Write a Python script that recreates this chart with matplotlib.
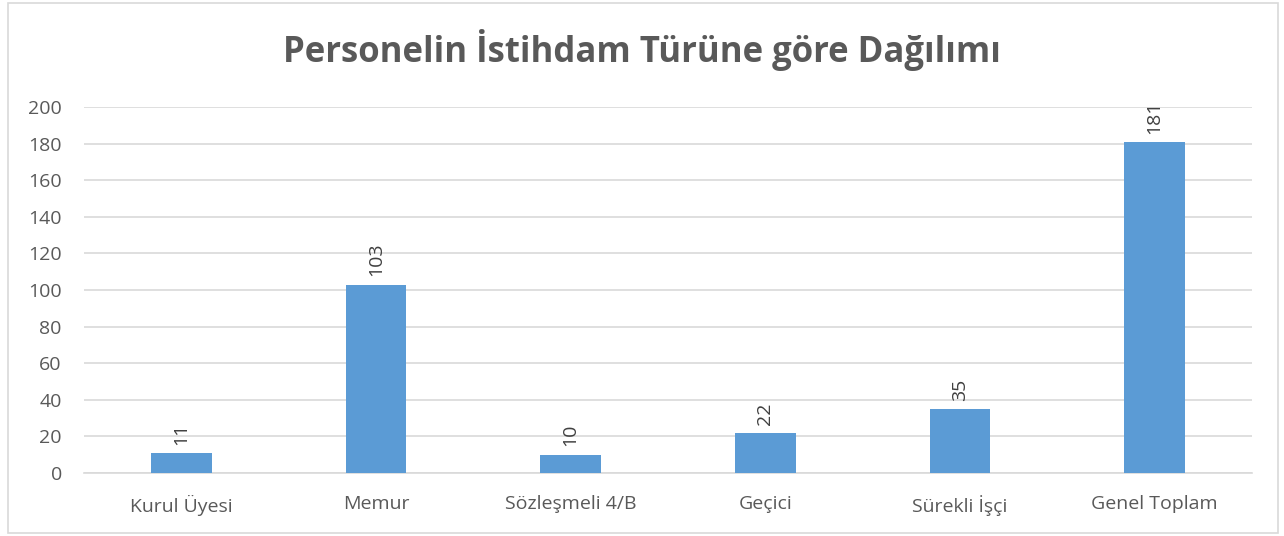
import numpy as np
import matplotlib.pyplot as plt
from matplotlib.patches import Rectangle

categories = ['Kurul Üyesi', 'Memur', 'Sözleşmeli 4/B', 'Geçici', 'Sürekli İşçi', 'Genel Toplam']
values = [11, 103, 10, 22, 35, 181]
yticks = [0, 20, 40, 60, 80, 100, 120, 140, 160, 180, 200]

plt.rcParams['font.family'] = ['Open Sans', 'DejaVu Sans']
txt = '#595959'

fig = plt.figure(figsize=(12.84, 5.36), dpi=100)
fig.patches.append(Rectangle((8/1284, 3/536), 1270/1284, 530/536, transform=fig.transFigure,
                             fill=False, edgecolor='#d9d9d9', linewidth=1.2))
ax = fig.add_axes([84/1284, 1-473/536, (1252-84)/1284, (473-107)/536])

x = np.arange(len(categories))
bars = ax.bar(x, values, width=0.31, color='#5b9bd5', zorder=3)
for xi, v in zip(x, values):
    ax.text(xi, v + 4.5, str(v), rotation=90, ha='center', va='bottom', fontsize=14, color='#404040')

ax.set_xlim(-0.5, len(categories) - 0.5)
ax.set_ylim(0, 200)
ax.set_yticks(yticks)
ax.set_xticks(x)
ax.set_xticklabels(categories, fontsize=14.5)
ax.grid(axis='y', color='#d9d9d9', linewidth=1.2, zorder=0)
for s in ['top', 'right', 'left']:
    ax.spines[s].set_visible(False)
ax.spines['bottom'].set_color('#d9d9d9')
ax.spines['bottom'].set_linewidth(1.2)
ax.tick_params(axis='both', length=0, labelsize=14, colors=txt)
ax.tick_params(axis='x', pad=16)
ax.tick_params(axis='y', pad=16)

fig.text(0.5, 1-50/536, 'Personelin İstihdam Türüne göre Dağılımı', ha='center', va='center',
         fontsize=25, fontweight='bold', color=txt)

fig.savefig('out.png', dpi=100)
